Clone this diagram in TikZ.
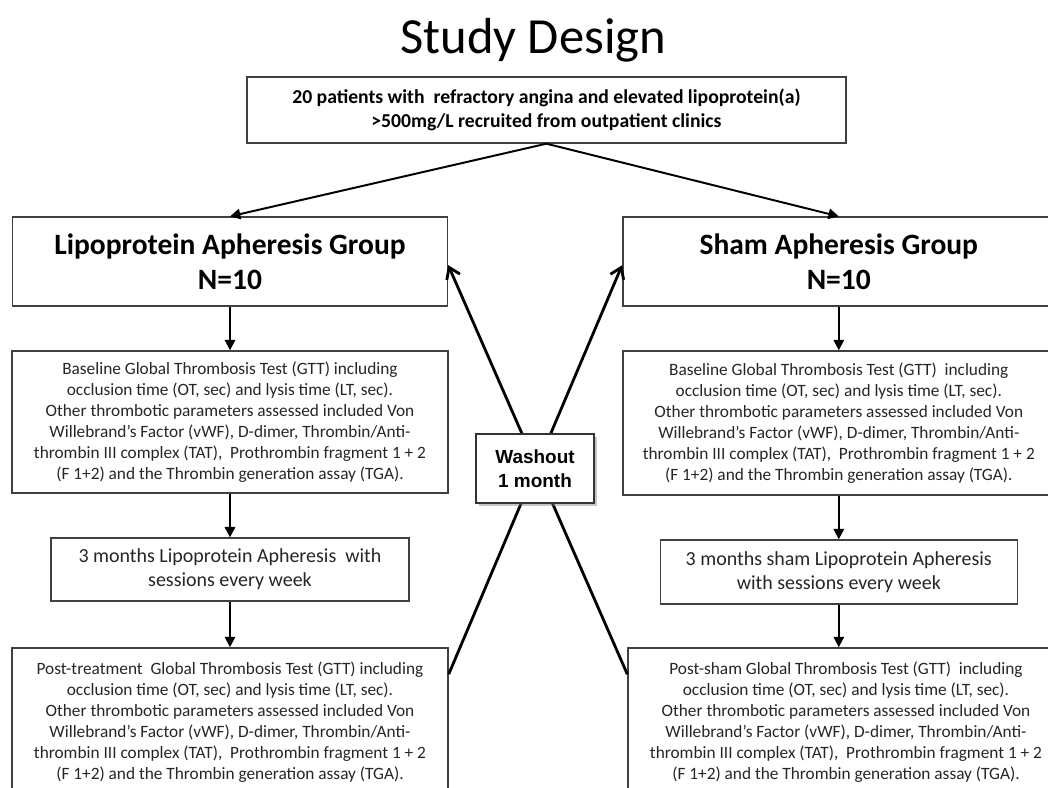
\documentclass[tikz,border=0pt]{standalone}
\usepackage{fontspec}
\setmainfont{Carlito}
\newfontfamily\washfont{Liberation Sans}
\usepackage{tikz}
\usetikzlibrary{
	arrows.meta,
	calc,
	positioning,
	shadows,
}
\tikzset{box/.style={draw=black!75,line width=1pt,inner sep=0mm,align=center,fill=white}}
\tikzset{group box/.style={box,font=\fontsize{21}{25}\selectfont\bfseries}}
\tikzset{test box/.style={box,text=black!85,font=\fontsize{12.3}{14.9}\selectfont}}
\tikzset{treat box/.style={box,text=black!85,font=\fontsize{14.2}{17}\selectfont}}
\tikzset{flow/.style={->,line width=1.4pt}}
\tikzset{cross/.style={-{Straight Barb[length=2.6mm,width=3.6mm]},line width=2pt}}
\tikzset{
	>={Triangle[length=2.6mm,width=2.6mm]}, 
	thick,
}

\begin{document}
\begin{tikzpicture}

\clip (0,0) rectangle (26.2,-19.7);
\fill[white] (0,0) rectangle (26.2,-19.7);

\node(title) at(13.33,-1.0) {\fontsize{36}{40}\selectfont Study Design};

\node[box,minimum width=14.975cm,minimum height=1.65cm,font=\fontsize{14}{17.5}\selectfont\bfseries](patients) at(13.66,-2.75)
	{20 patients with\ \ refractory angina and elevated lipoprotein(a)\\ >500mg/L recruited from outpatient clinics};

\node[group box,minimum width=10.875cm,minimum height=2.225cm](lipo) at(5.75,-6.54) {Lipoprotein Apheresis Group\\N=10};
\node[group box,minimum width=10.8cm,minimum height=2.225cm](sham) at(20.97,-6.54) {Sham Apheresis Group\\N=10};

\node[test box,minimum width=10.9cm,minimum height=3.55cm](lipobase) at(5.75,-10.55)
	{Baseline Global Thrombosis Test (GTT) including\\
	occlusion time (OT, sec) and lysis time (LT, sec).\\
	Other thrombotic parameters assessed included Von\\
	Willebrand's Factor (vWF), D-dimer, Thrombin/Anti-\\
	thrombin III complex (TAT),\ \ Prothrombin fragment 1 + 2\\
	(F 1+2) and the Thrombin generation assay (TGA).};
\node[test box,minimum width=10.8cm,minimum height=3.6cm](shambase) at(20.97,-10.575)
	{Baseline Global Thrombosis Test (GTT)\ \ including\\
	occlusion time (OT, sec) and lysis time (LT, sec).\\
	Other thrombotic parameters assessed included Von\\
	Willebrand's Factor (vWF), D-dimer, Thrombin/Anti-\\
	thrombin III complex (TAT),\ \ Prothrombin fragment 1 + 2\\
	(F 1+2) and the Thrombin generation assay (TGA).};

\node[treat box,minimum width=8.95cm,minimum height=1.575cm](lipotreat) at(5.75,-14.24)
	{3 months Lipoprotein Apheresis\ \ with\\ sessions every week};
\node[treat box,minimum width=8.925cm,minimum height=1.6cm](shamtreat) at(20.97,-14.3)
	{3 months sham Lipoprotein Apheresis\\ with sessions every week};

\node[test box,minimum width=10.9cm,minimum height=3.725cm](lipopost) at(5.75,-18.06)
	{Post-treatment\ \ Global Thrombosis Test (GTT) including\\
	occlusion time (OT, sec) and lysis time (LT, sec).\\
	Other thrombotic parameters assessed included Von\\
	Willebrand's Factor (vWF), D-dimer, Thrombin/Anti-\\
	thrombin III complex (TAT),\ \ Prothrombin fragment 1 + 2\\
	(F 1+2) and the Thrombin generation assay (TGA).};
\node[test box,minimum width=10.9cm,minimum height=3.725cm](shampost) at(21.15,-18.06)
	{Post-sham Global Thrombosis Test (GTT)\ \ including\\
	occlusion time (OT, sec) and lysis time (LT, sec).\\
	Other thrombotic parameters assessed included Von\\
	Willebrand's Factor (vWF), D-dimer, Thrombin/Anti-\\
	thrombin III complex (TAT),\ \ Prothrombin fragment 1 + 2\\
	(F 1+2) and the Thrombin generation assay (TGA).};

% arrows down each arm
\draw[flow] (patients.south) -- (lipo.north);
\draw[flow] (patients.south) -- (sham.north);
\draw[flow] (lipo) -- (lipobase);
\draw[flow] (lipobase) -- (lipotreat);
\draw[flow] (lipotreat) -- (lipopost);
\draw[flow] (sham) -- (shambase);
\draw[flow] (shambase) -- (shamtreat);
\draw[flow] (shamtreat.south) -- (shamtreat.south |- shampost.north);

% crossover
\draw[cross] ([yshift=-0.675cm]lipopost.north east) -- ([yshift=-0.09cm]sham.west);
\draw[cross] ([yshift=-0.675cm]shampost.north west) -- ([yshift=-0.09cm]lipo.east);

\node[box,draw=black!80,minimum width=2.95cm,minimum height=1.725cm,font=\washfont\fontsize{13.5}{17}\selectfont\bfseries,
	drop shadow={opacity=0.45,shadow xshift=0.07cm,shadow yshift=-0.07cm}](washout) at(13.375,-11.71) {Washout\\1 month};

\end{tikzpicture}
\end{document}
